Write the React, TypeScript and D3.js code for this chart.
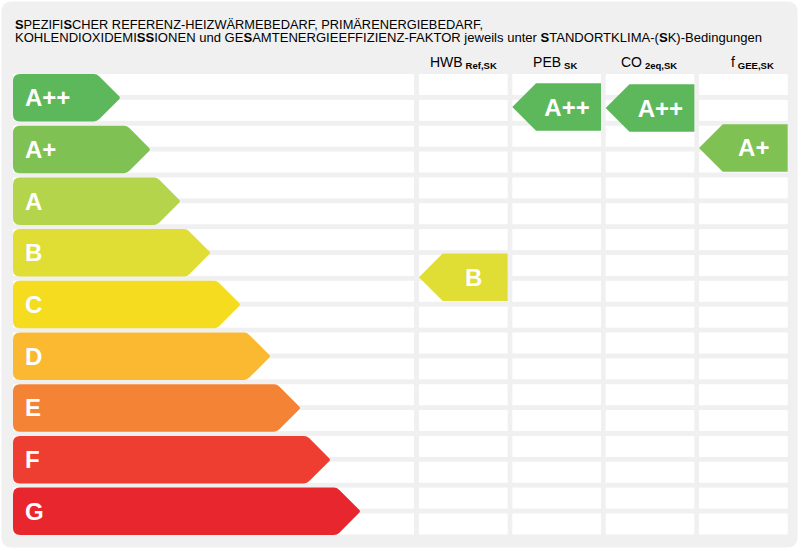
import React, { useEffect } from "react";
import * as d3 from "d3";

const titleLines = [
  "SPEZIFISCHER REFERENZ-HEIZWÄRMEBEDARF, PRIMÄRENERGIEBEDARF,",
  "KOHLENDIOXIDEMISSIONEN und GESAMTENERGIEEFFIZIENZ-FAKTOR jeweils unter STANDORTKLIMA-(SK)-Bedingungen",
];
const classes = ["A++", "A+", "A", "B", "C", "D", "E", "F", "G"];
const classColors = ["#5db85b", "#80c153", "#b4d44c", "#e0dd35", "#f6dc1f", "#fbb932", "#f48335", "#ee3d31", "#e8262e"];
const indicators = ["HWB", "PEB", "CO", "f"];
const indicatorSubs = ["Ref,SK", "SK", "2eq,SK", "GEE,SK"];
const ratingClass = ["B", "A++", "A++", "A+"];
// continuous position on the class scale (0 = top of A++, 9 = bottom of G)
const ratingPos = [3.93, 0.64, 0.66, 1.43];

const W = 803;
const H = 552;
const FONT = "'Liberation Sans', Arial, sans-serif";

const gridTop = 74;
const rowPitch = 51.7;
const stripeH = 21;
const arrowH = 47.5;
const headerDx = [0, -1.5, -1, 9];

export default function App() {
  useEffect(() => {
    document.body.style.margin = "0";
  }, []);

  const y = d3.scaleLinear().domain([0, classes.length]).range([gridTop, gridTop + rowPitch * classes.length]);
  const tipX = d3.scaleLinear().domain([0, classes.length - 1]).range([120.7, 360.7]);
  const colX = d3.scaleBand<string>().domain(indicators).range([419, 787.7]).paddingInner(0.05);
  const leftX0 = 13;
  const leftX1 = 414;

  const stripes: number[] = [];
  for (let i = 0; i < classes.length * 2; i++) stripes.push(y(i / 2));

  const arrowPath = (x0: number, y0: number, tip: number, h: number) => {
    const r = 7;
    const y1 = y0 + h;
    const ym = y0 + h / 2;
    const sx = tip - h / 2;
    const c = 3;
    return [
      `M${x0 + r},${y0}`,
      `L${sx - c},${y0}`,
      `Q${sx},${y0} ${sx + c * 0.8},${y0 + c * 0.8}`,
      `L${tip - 1.5},${ym - 1.5}`,
      `Q${tip},${ym} ${tip - 1.5},${ym + 1.5}`,
      `L${sx + c * 0.8},${y1 - c * 0.8}`,
      `Q${sx},${y1} ${sx - c},${y1}`,
      `L${x0 + r},${y1}`,
      `Q${x0},${y1} ${x0},${y1 - r}`,
      `L${x0},${y0 + r}`,
      `Q${x0},${y0} ${x0 + r},${y0}`,
      "Z",
    ].join(" ");
  };

  const markerPath = (left: number, right: number, cy: number, h: number) => {
    const y0 = cy - h / 2;
    const y1 = cy + h / 2;
    return `M${left},${cy} L${left + h / 2},${y0} L${right},${y0} L${right},${y1} L${left + h / 2},${y1} Z`;
  };

  const renderTitle = (line: string) => {
    const parts = line.split("S");
    const out: React.ReactNode[] = [];
    parts.forEach((p, i) => {
      if (i > 0)
        out.push(
          <tspan key={`s${i}`} fontWeight="bold">
            S
          </tspan>
        );
      if (p) out.push(<tspan key={`p${i}`}>{p}</tspan>);
    });
    return out;
  };

  return (
    <svg width={W} height={H} style={{ display: "block" }} fontFamily={FONT}>
      <rect x={0} y={0} width={W} height={H} fill="#ffffff" />
      <rect x={1.5} y={1.5} width={796} height={546} rx={9} fill="#f0f0f0" />

      <text x={15} y={28.5} fontSize={12.3} fill="#000" textLength={468} lengthAdjust="spacingAndGlyphs">
        {renderTitle(titleLines[0])}
      </text>
      <text x={15} y={41.5} fontSize={12.3} fill="#000" textLength={747} lengthAdjust="spacingAndGlyphs">
        {renderTitle(titleLines[1])}
      </text>

      {/* headers */}
      {indicators.map((ind, i) => (
        <text
          key={ind}
          x={(colX(ind) as number) + colX.bandwidth() / 2 + headerDx[i]}
          y={66.7}
          fontSize={14}
          textAnchor="middle"
          fill="#000"
        >
          {ind}
          <tspan fontSize={9.5} fontWeight="bold" dx={3} dy={2}>
            {indicatorSubs[i]}
          </tspan>
        </text>
      ))}

      {/* stripes */}
      {stripes.map((sy, i) => (
        <g key={i}>
          <rect x={leftX0} y={sy} width={leftX1 - leftX0} height={stripeH} fill="#fff" />
          {indicators.map((ind) => (
            <rect key={ind} x={colX(ind)} y={sy} width={colX.bandwidth()} height={stripeH} fill="#fff" />
          ))}
        </g>
      ))}

      {/* class arrows */}
      {classes.map((c, i) => (
        <g key={c}>
          <path d={arrowPath(leftX0, y(i), tipX(i), arrowH)} fill={classColors[i]} />
          <text x={25} y={y(i) + arrowH / 2 + 8.5} fontSize={24} fontWeight="bold" fill="#fff">
            {c}
          </text>
        </g>
      ))}

      {/* rating markers */}
      {indicators.map((ind, i) => {
        const ci = classes.indexOf(ratingClass[i]);
        const left = colX(ind) as number;
        const right = left + colX.bandwidth();
        const cy = y(ratingPos[i]);
        return (
          <g key={ind}>
            <path d={markerPath(left, right, cy, arrowH)} fill={classColors[ci]} />
            <text
              x={(left + arrowH / 2 + right) / 2 - 1.5}
              y={cy + 8.5}
              fontSize={24}
              fontWeight="bold"
              fill="#fff"
              textAnchor="middle"
            >
              {ratingClass[i]}
            </text>
          </g>
        );
      })}
    </svg>
  );
}
